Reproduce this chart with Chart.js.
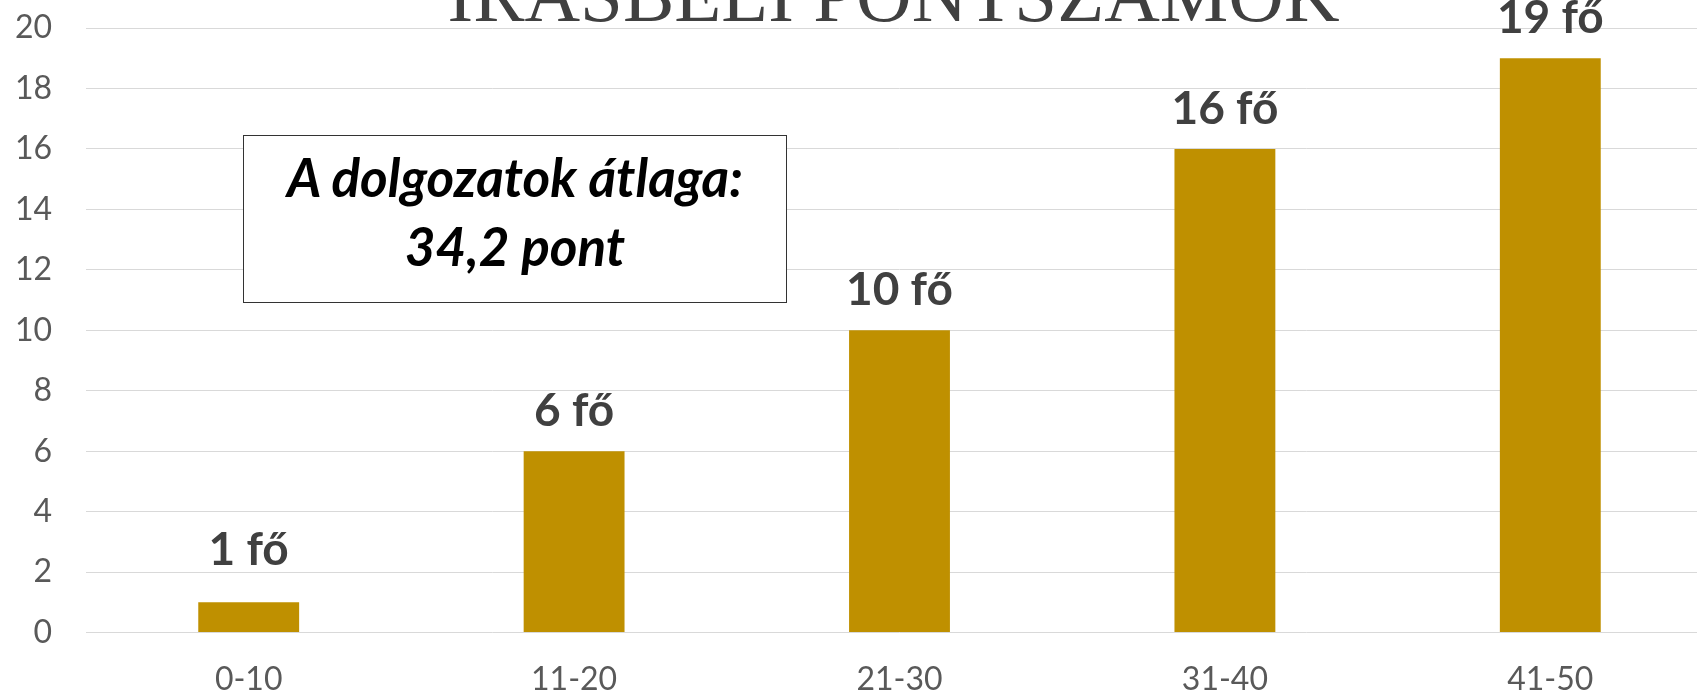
<!DOCTYPE html>
<html>
<head>
<meta charset="utf-8">
<script src="https://cdn.jsdelivr.net/npm/chart.js@4"></script>
<style>
  html, body { margin: 0; padding: 0; overflow: hidden; background: #fff; }
  #wrap { position: absolute; left: 0; top: 0; width: 1713px; height: 700px; }
  #title {
    position: absolute; left: 0; width: 1787px; top: -43px;
    text-align: center; font-family: "Liberation Serif", serif;
    font-size: 77px; line-height: 77px; color: #404040; white-space: nowrap;
  }
  #note {
    position: absolute; left: 243px; top: 135px; width: 544px; height: 168px;
    border: 1.5px solid #333; background: #fff; box-sizing: border-box;
    font-family: Lato, sans-serif; font-weight: bold; font-style: italic;
    font-size: 53px; line-height: 69px; text-align: center; color: #000;
    padding-top: 6px;
  }
</style>
</head>
<body>
<div id="wrap"><canvas id="pontok"></canvas></div>
<div id="title">ÍRÁSBELI PONTSZÁMOK</div>
<div id="note">A dolgozatok átlaga:<br>34,2 pont</div>
<script>
var categories = ["0-10", "11-20", "21-30", "31-40", "41-50"];
var counts = [1, 6, 10, 16, 19];
var unit = "fő";

// value labels above the bars ("19 fő")
var barLabels = {
    id: 'barLabels',
    afterDatasetsDraw: function(chart) {
        var ctx = chart.ctx;
        var meta = chart.getDatasetMeta(0);
        ctx.save();
        ctx.font = 'bold 46px Lato';
        ctx.fillStyle = '#404040';
        ctx.textAlign = 'center';
        ctx.textBaseline = 'alphabetic';
        meta.data.forEach(function(bar, i) {
            var gap = i === 0 ? 37 : 25;
            ctx.fillText(counts[i] + ' ' + unit, bar.x, bar.y - gap);
        });
        ctx.restore();
    }
};

var pontok = document.getElementById('pontok').getContext('2d');
new Chart(pontok, {
    type: 'bar',
    data: {
        labels: categories,
        datasets: [{
            label: 'létszám',
            data: counts,
            backgroundColor: '#BF9000',
            barPercentage: 0.31,
            categoryPercentage: 1
        }]
    },
    options: {
        responsive: true,
        maintainAspectRatio: false,
        animation: false,
        layout: { padding: { left: 15, top: 28, right: 0, bottom: 1 } },
        plugins: {
            legend: { display: false },
            tooltip: { enabled: false }
        },
        scales: {
            x: {
                grid: { display: false, drawTicks: false },
                border: { display: false },
                ticks: { color: '#595959', padding: 28, font: { family: 'Lato', size: 32 } },
                afterFit: function(scale) { scale.height = 66.4; }
            },
            y: {
                min: 0,
                max: 20,
                grid: { color: '#d9d9d9', lineWidth: 1, drawTicks: false },
                border: { display: false },
                ticks: { stepSize: 2, color: '#595959', padding: 34, font: { family: 'Lato', size: 32 } },
                afterFit: function(scale) {
                    scale.width = 71;
                    scale.paddingTop = 0;
                    scale.paddingBottom = 0;
                }
            }
        }
    },
    plugins: [barLabels]
});
</script>
</body>
</html>
